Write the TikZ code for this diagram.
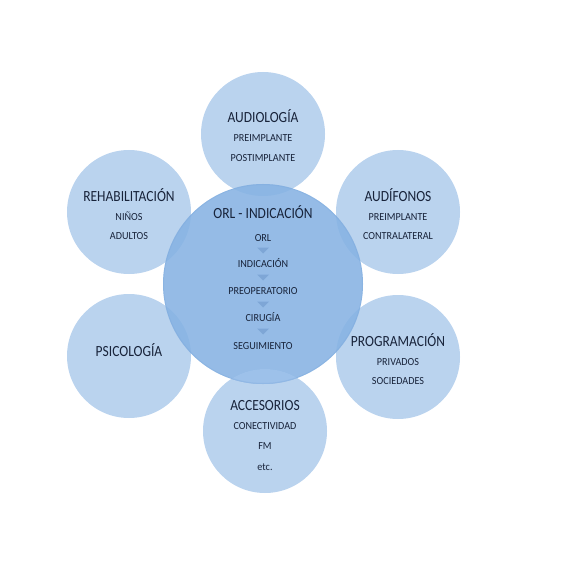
\documentclass[tikz,border=0pt]{standalone}
\usepackage{fontspec}
\setmainfont{Carlito}
\newfontfamily\ttlfont[FakeStretch=0.87]{Carlito}
\newfontfamily\subfont[FakeStretch=0.94]{Carlito}
\usetikzlibrary{calc}
\definecolor{outerblue}{HTML}{BAD3EE}
\definecolor{innerblue}{HTML}{86B2E3}
\definecolor{lapblue}{HTML}{9DC1EA}
\definecolor{edgeblue}{HTML}{7BA8DC}
\definecolor{txtnavy}{HTML}{18233A}
\definecolor{triblue}{HTML}{7EA6D6}
\begin{document}
\begin{tikzpicture}[x=1pt,y=-1pt,
  bubble/.style={circle,fill=outerblue,minimum size=124pt,inner sep=0pt},
  hub/.style={circle,fill=innerblue,fill opacity=0.88,minimum size=200pt,inner sep=0pt},
  ttl/.style={anchor=base,text=txtnavy,font=\ttlfont\fontsize{15.5}{15.5}\selectfont,inner sep=0pt},
  sub/.style={anchor=base,text=txtnavy,font=\subfont\fontsize{10.8}{10.8}\selectfont,inner sep=0pt},
  arrowtri/.style={fill=triblue}]
\useasboundingbox (0,0) rectangle (561,561);
% outer circles
\node[bubble] (aud) at (263,134) {};
\node[bubble] (audif) at (398,212) {};
\node[bubble] (prog) at (398,357) {};
\node[bubble] (acc) at (265,431) {};
\node[bubble] (psi) at (129,356) {};
\node[bubble] (reh) at (129,212) {};
% hub
\node[hub] (hub) at (263,284) {};
\begin{scope}
  \clip (acc.center) circle[radius=62pt];
  \fill[lapblue] (hub.center) circle[radius=100pt];
\end{scope}
\draw[edgeblue,line width=1pt,opacity=0.35] (hub.center) circle[radius=99.5pt];
% texts outer
\node[ttl] (audT) at ($(aud.center)+(0,-11)$) {AUDIOLOGÍA};
\node[sub] (audA) at ($(aud.center)+(0,8)$) {PREIMPLANTE};
\node[sub] (audB) at ($(aud.center)+(0,27.5)$) {POSTIMPLANTE};
\node[ttl] (audifT) at ($(audif.center)+(0,-11)$) {AUDÍFONOS};
\node[sub] (audifA) at ($(audif.center)+(0,8)$) {PREIMPLANTE};
\node[sub] (audifB) at ($(audif.center)+(0,27.5)$) {CONTRALATERAL};
\node[ttl] (progT) at ($(prog.center)+(0,-11)$) {PROGRAMACIÓN};
\node[sub] (progA) at ($(prog.center)+(0,8)$) {PRIVADOS};
\node[sub] (progB) at ($(prog.center)+(0,27.5)$) {SOCIEDADES};
\node[ttl] (accT) at ($(acc.center)+(0,-21)$) {ACCESORIOS};
\node[sub] (accA) at ($(acc.center)+(0,-1.5)$) {CONECTIVIDAD};
\node[sub] (accB) at ($(acc.center)+(0,18.5)$) {FM};
\node[sub] (accC) at ($(acc.center)+(0,39.5)$) {etc.};
\node[ttl] (psiT) at ($(psi.center)+(0,0)$) {PSICOLOGÍA};
\node[ttl] (rehT) at ($(reh.center)+(0,-11)$) {REHABILITACIÓN};
\node[sub] (rehA) at ($(reh.center)+(0,8)$) {NIÑOS};
\node[sub] (rehB) at ($(reh.center)+(0,27.5)$) {ADULTOS};
% hub texts
\node[ttl] (hubT) at ($(hub.center)+(0,-66)$) {ORL - INDICACIÓN};
\node[sub] (s1) at ($(hub.center)+(0,-42.6)$) {ORL};
\node[sub] (s2) at ($(hub.center)+(0,-16.6)$) {INDICACIÓN};
\node[sub] (s3) at ($(hub.center)+(0,10.4)$) {PREOPERATORIO};
\node[sub] (s4) at ($(hub.center)+(0,37.4)$) {CIRUGÍA};
\node[sub] (s5) at ($(hub.center)+(0,65.4)$) {SEGUIMIENTO};
% triangles
\coordinate (t1) at ($(hub.center)+(0,-33.5)$);
\coordinate (t2) at ($(hub.center)+(0,-6.5)$);
\coordinate (t3) at ($(hub.center)+(0,20.5)$);
\coordinate (t4) at ($(hub.center)+(0,47.5)$);
\foreach \t in {t1,t2,t3,t4}{
  \fill[arrowtri] ($(\t)+(-6,-3)$) -- ($(\t)+(6,-3)$) -- ($(\t)+(0,3)$) -- cycle;
}
\end{tikzpicture}
\end{document}
